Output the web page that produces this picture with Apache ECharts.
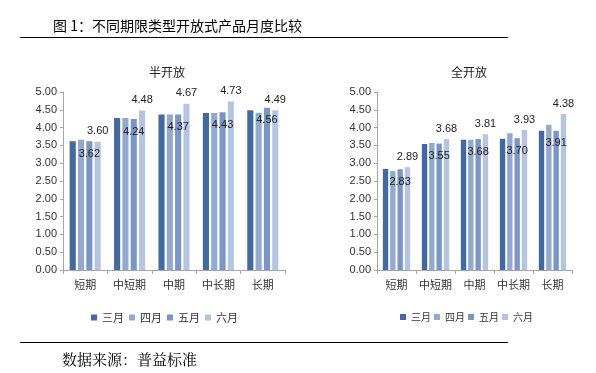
<!DOCTYPE html>
<html><head><meta charset="utf-8">
<script src="https://cdn.jsdelivr.net/npm/echarts@6/dist/echarts.min.js"></script>
<style>html,body{margin:0;padding:0;background:#fff}#c{width:596px;height:373px}</style>
</head><body><div id="c"></div>
<script>
const categories = ['短期','中短期','中期','中长期','长期'];
const months = ['三月','四月','五月','六月'];
const yTicks = [0,0.5,1,1.5,2,2.5,3,3.5,4,4.5,5];
// 半开放
const halfMar = [3.62, 4.27, 4.37, 4.41, 4.49];
const halfApr = [3.66, 4.27, 4.37, 4.41, 4.42];
const halfMay = [3.62, 4.24, 4.37, 4.43, 4.56];
const halfJun = [3.60, 4.48, 4.67, 4.73, 4.49];
// 全开放
const fullMar = [2.84, 3.54, 3.66, 3.69, 3.91];
const fullApr = [2.78, 3.57, 3.66, 3.84, 4.08];
const fullMay = [2.83, 3.55, 3.68, 3.70, 3.91];
const fullJun = [2.89, 3.68, 3.81, 3.93, 4.38];

const colors = ['#44699f', '#93a9cf', '#7b96c4', '#b6c5df'];
const CJK = '"Noto Sans CJK SC", sans-serif';
const NUM = '"Liberation Sans", Arial, sans-serif';

function xAx(gi){
  return {type:'category', gridIndex:gi, data:categories,
    axisLine:{lineStyle:{color:'#a6a6a6'}},
    axisTick:{show:true, length:4, lineStyle:{color:'#a6a6a6'}},
    axisLabel:{interval:0, fontFamily:CJK, fontSize:11, color:'#333', margin:9}};
}
function yAx(gi){
  return {type:'value', gridIndex:gi, min:0, max:5, interval:0.5,
    axisLine:{show:true, lineStyle:{color:'#a6a6a6'}},
    axisTick:{show:true, length:3, lineStyle:{color:'#a6a6a6'}},
    splitLine:{show:false},
    axisLabel:{fontFamily:NUM, fontSize:11, color:'#333', margin:6, formatter:v=>v.toFixed(2)}};
}
function mk(name, data, i, gi){
  const s = {name, type:'bar', xAxisIndex:gi, yAxisIndex:gi, data,
    itemStyle:{color:colors[i]}, barGap:'36%', barCategoryGap:'30%'};
  if (i===2) s.label = {show:true, position:'insideTop', distance:7, fontFamily:NUM, fontSize:11, color:'#222', formatter:p=>p.value.toFixed(2)};
  if (i===3) s.label = {show:true, position:'top', distance:5, fontFamily:NUM, fontSize:11, color:'#222', formatter:p=>p.value.toFixed(2)};
  return s;
}
const half = [halfMar, halfApr, halfMay, halfJun];
const full = [fullMar, fullApr, fullMay, fullJun];
const series = [];
half.forEach((d,i)=>series.push(mk(months[i], d, i, 0)));
full.forEach((d,i)=>series.push(mk(months[i], d, i, 1)));

const chart = echarts.init(document.getElementById('c'));
chart.setOption({
  animation:false,
  backgroundColor:'#fff',
  title:[
    {text:'图 1：不同期限类型开放式产品月度比较', left:48, top:14, textStyle:{fontFamily:CJK, fontSize:14, fontWeight:'normal', color:'#000'}},
    {text:'半开放', left:162, top:61, textAlign:'center', textStyle:{fontFamily:CJK, fontSize:12, fontWeight:'normal', color:'#222'}},
    {text:'全开放', left:464, top:61, textAlign:'center', textStyle:{fontFamily:CJK, fontSize:12, fontWeight:'normal', color:'#222'}},
    {text:'数据来源：普益标准', left:57, top:347, textStyle:{fontFamily:'"Noto Serif CJK SC", "Noto Sans CJK SC", serif', fontSize:15, fontWeight:'normal', color:'#000'}}
  ],
  graphic:[
    {type:'line', shape:{x1:20, y1:37.5, x2:508, y2:37.5}, style:{stroke:'#000', lineWidth:1}},
    {type:'line', shape:{x1:20, y1:342.5, x2:508, y2:342.5}, style:{stroke:'#000', lineWidth:1}}
  ],
  legend:[
    {data:months, left:86, top:307, itemWidth:6, itemHeight:6, itemGap:5, icon:'rect',
      textStyle:{fontFamily:CJK, fontSize:11, color:'#333'},
      selectedMode:false},
    {data:months, left:395, top:307, itemWidth:6, itemHeight:6, itemGap:3, icon:'rect',
      textStyle:{fontFamily:CJK, fontSize:10, color:'#333'},
      selectedMode:false}
  ],
  grid:[
    {left:63, top:92, width:222, height:178},
    {left:377, top:92, width:195, height:178}
  ],
  xAxis:[xAx(0), xAx(1)],
  yAxis:[yAx(0), yAx(1)],
  series
});
</script></body></html>
